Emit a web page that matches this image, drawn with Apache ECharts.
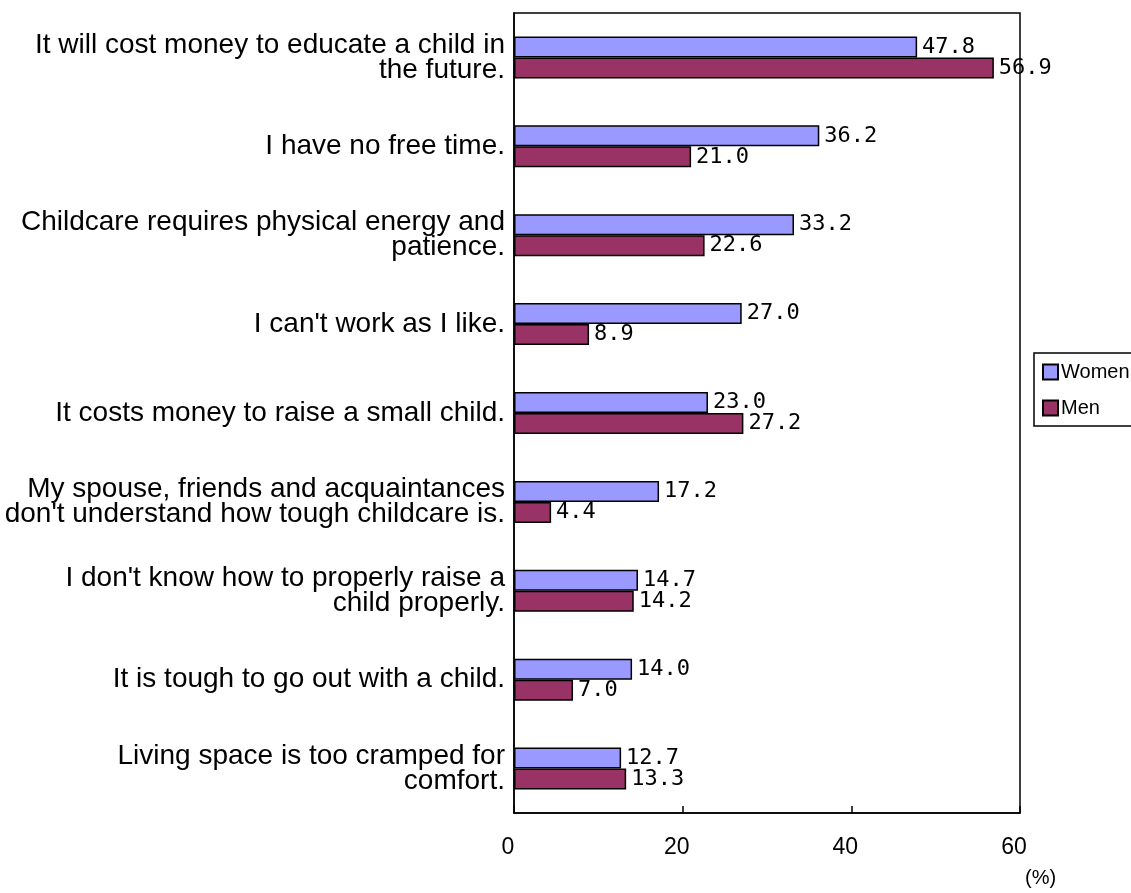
<!DOCTYPE html>
<html>
<head>
<meta charset="utf-8">
<script src="https://cdn.jsdelivr.net/npm/echarts@6/dist/echarts.min.js"></script>
<style>
  html, body { margin: 0; padding: 0; background: #fff; }
  #chart { width: 1131px; height: 893px; }
</style>
</head>
<body>
<div id="chart"></div>
<script>
const categories = [
  'It will cost money to educate a child in\nthe future.',
  'I have no free time.',
  'Childcare requires physical energy and\npatience.',
  "I can't work as I like.",
  'It costs money to raise a small child.',
  "My spouse, friends and acquaintances\ndon't understand how tough childcare is.",
  "I don't know how to properly raise a\nchild properly.",
  'It is tough to go out with a child.',
  'Living space is too cramped for\ncomfort.'
];
const women = [47.8, 36.2, 33.2, 27.0, 23.0, 17.2, 14.7, 14.0, 12.7];
const men = [56.9, 21.0, 22.6, 8.9, 27.2, 4.4, 14.2, 7.0, 13.3];

const chart = echarts.init(document.getElementById('chart'));

const valueLabel = {
  show: true,
  position: 'right',
  distance: 5,
  color: '#000',
  fontSize: 22,
  fontFamily: 'DejaVu Sans Mono',
  formatter: p => p.value.toFixed(1)
};

const option = {
  animation: false,
  grid: {
    left: 514, right: 111, top: 13, bottom: 80,
    show: true, borderColor: '#000', borderWidth: 1.5
  },
  legend: {
    orient: 'vertical',
    left: 1034, top: 353,
    data: ['Women', 'Men'],
    icon: 'rect',
    itemWidth: 15, itemHeight: 15, itemGap: 16,
    padding: [9, 40, 8, 8],
    borderColor: '#000', borderWidth: 1.5,
    textStyle: { fontSize: 20, fontFamily: 'Liberation Sans', color: '#000', padding: [0, 0, 0, -2] }
  },
  xAxis: {
    type: 'value',
    min: 0, max: 60, interval: 20,
    axisLine: { show: true, lineStyle: { color: '#000', width: 1.5 } },
    axisTick: { show: true, inside: true, length: 7, lineStyle: { color: '#000', width: 1.5 } },
    splitLine: { show: false },
    axisLabel: {
      margin: 23, fontSize: 23, fontFamily: 'Liberation Sans', color: '#000',
      padding: [0, 12, 0, 0]
    }
  },
  yAxis: {
    type: 'category',
    data: categories,
    inverse: true,
    axisLine: { show: true, lineStyle: { color: '#000', width: 1.5 } },
    axisTick: { show: false },
    axisLabel: {
      margin: 9, fontSize: 28, lineHeight: 25, align: 'right',
      fontFamily: 'Liberation Sans', color: '#000'
    }
  },
  graphic: [{
    type: 'text', left: 1025, top: 868,
    style: { text: '(%)', fontSize: 20, fontFamily: 'Liberation Sans', fill: '#000' }
  }],
  series: [
    {
      name: 'Women', type: 'bar', data: women,
      barWidth: 21, barGap: '0%',
      itemStyle: { color: '#9999FF', borderColor: '#000', borderWidth: 1.5 },
      label: valueLabel
    },
    {
      name: 'Men', type: 'bar', data: men,
      barWidth: 21,
      itemStyle: { color: '#993366', borderColor: '#000', borderWidth: 1.5 },
      label: valueLabel
    }
  ]
};

chart.setOption(option);
</script>
</body>
</html>
